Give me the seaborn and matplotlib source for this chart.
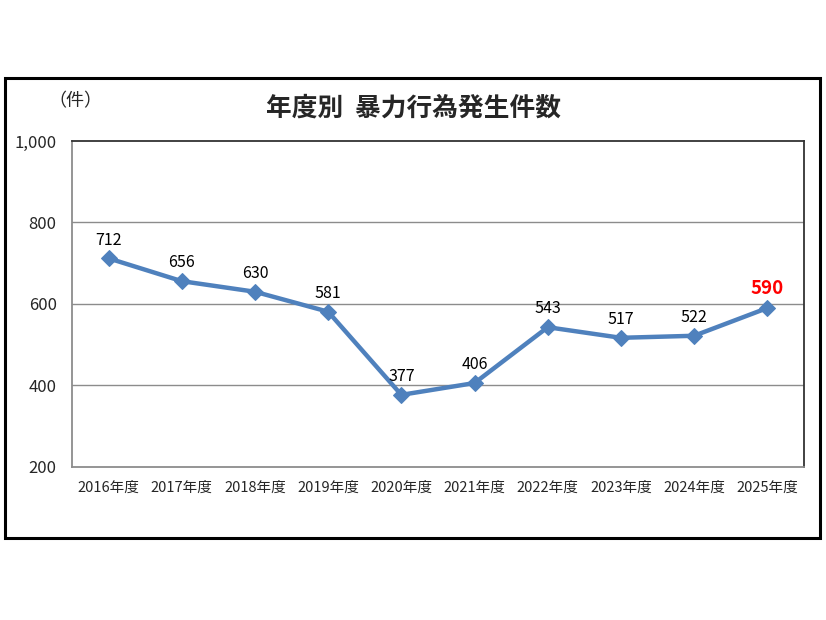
import matplotlib
matplotlib.use("Agg")
import matplotlib.pyplot as plt
import matplotlib.patches as patches
import seaborn as sns
import pandas as pd

years = ["2016年度", "2017年度", "2018年度", "2019年度", "2020年度",
         "2021年度", "2022年度", "2023年度", "2024年度", "2025年度"]
counts = [712, 656, 630, 581, 377, 406, 543, 517, 522, 590]
y_ticks = [200, 400, 600, 800, 1000]
y_tick_labels = ["200", "400", "600", "800", "1,000"]

sns.set_style("white")
plt.rcParams['font.family'] = ['Noto Sans CJK JP', 'DejaVu Sans']

df = pd.DataFrame({"year": years, "count": counts})
df["pos"] = range(len(df))

fig = plt.figure(figsize=(8.26, 6.2), dpi=100)
ax = fig.add_axes([0.0872, 0.2468, 0.886, 0.5258])

# outer chart frame
fig.patches.append(patches.Rectangle((5 / 826, 1 - 538 / 620), 815 / 826, 460 / 620,
                                     transform=fig.transFigure, fill=False,
                                     edgecolor="black", linewidth=2.2))

for v in y_ticks[1:-1]:
    ax.axhline(v, color="#8c8c8c", linewidth=1, zorder=0)

sns.lineplot(data=df, x="pos", y="count", ax=ax, color="#4F81BD",
             linewidth=3.2, marker="D", markersize=8, markeredgecolor="#4F81BD")

for i, v in enumerate(counts):
    last = i == len(counts) - 1
    ax.annotate(f"{v}", (i, v), xytext=(0, 7), textcoords="offset points",
                ha="center", va="bottom",
                fontsize=13.5 if last else 11.5,
                color="#FF0000" if last else "black",
                fontweight="bold" if last else "normal")

ax.set_xlim(-0.5, len(years) - 0.5)
ax.set_ylim(200, 1000)
ax.set_xticks(range(len(years)))
ax.set_xticklabels(years, fontsize=10.5)
ax.set_yticks(y_ticks)
ax.set_yticklabels(y_tick_labels, fontsize=12)
ax.tick_params(axis="x", length=0, pad=10)
ax.tick_params(axis="y", length=0, pad=11)
ax.set_xlabel("")
ax.set_ylabel("")

for side in ["top", "right"]:
    ax.spines[side].set_color("#333333")
    ax.spines[side].set_linewidth(1.3)
for side in ["left", "bottom"]:
    ax.spines[side].set_color("#8c8c8c")
    ax.spines[side].set_linewidth(1.3)

fig.text(0.5, 1 - 108 / 620, "年度別  暴力行為発生件数", ha="center", va="center",
         fontsize=18.5, fontweight="bold")
fig.text(75 / 826, 1 - 101 / 620, "（件）", ha="center", va="center", fontsize=13)

fig.savefig("out.png", dpi=100)
